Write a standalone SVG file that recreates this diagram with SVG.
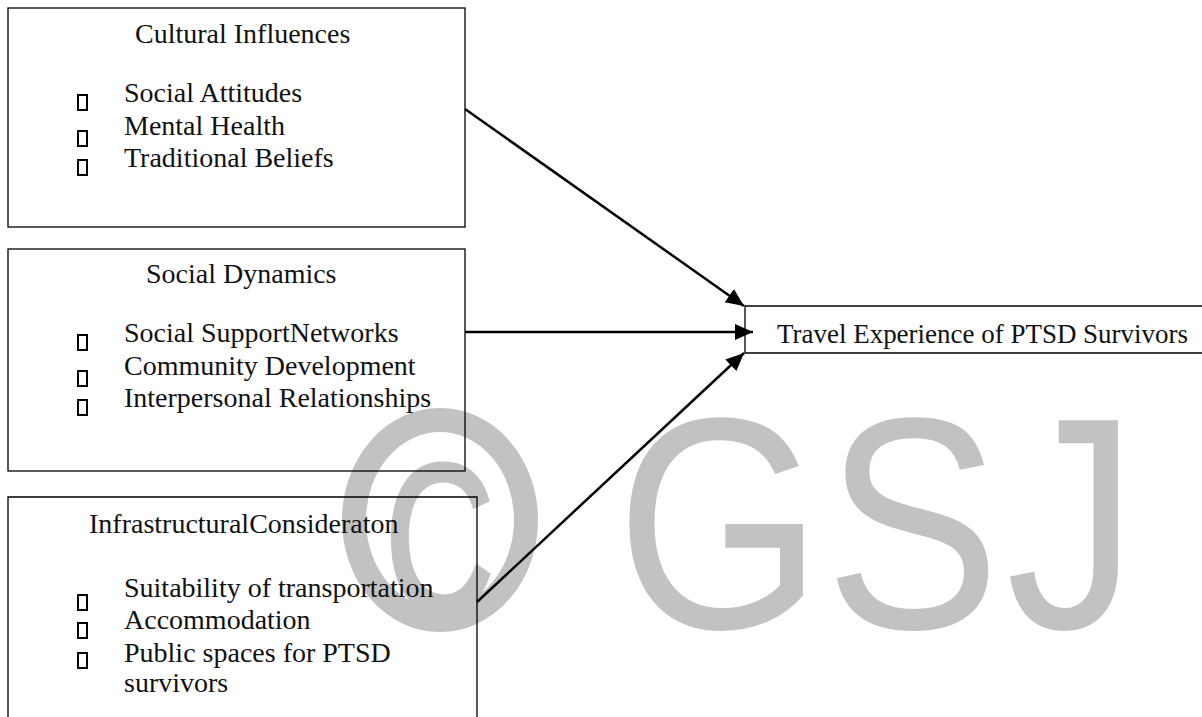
<svg xmlns="http://www.w3.org/2000/svg" width="1202" height="717" viewBox="0 0 1202 717">
  <style>
    .box { fill: none; stroke: #000; stroke-width: 1.3; }
    .txt { font-family: "Liberation Serif", "Times New Roman", serif; font-size: 28px; fill: #111; }
    .bullet { fill: none; stroke: #000; stroke-width: 2; }
    .wm { font-family: "Liberation Sans", Arial, sans-serif; font-size: 302px; fill: #c2c2c2; }
    .wm-c { font-family: "Liberation Sans", Arial, sans-serif; font-size: 210px; fill: #c2c2c2; stroke: #c2c2c2; stroke-width: 5; }
    .link { fill: none; stroke: #000; stroke-width: 2.5; }
  </style>
  <defs>
    <marker id="arrow" markerUnits="userSpaceOnUse" markerWidth="20" markerHeight="18" refX="18" refY="8" orient="auto">
      <path d="M0,0 L18,8 L0,16 Z" fill="#000"/>
    </marker>
  </defs>

  <rect width="1202" height="717" fill="#fff"/>

  <!-- grey copyright mark behind the diagram -->
  <g id="watermark">
    <ellipse cx="440" cy="520" rx="86" ry="100" fill="none" stroke="#c2c2c2" stroke-width="24"/>
    <text class="wm-c" transform="translate(385 611) scale(0.72 1)">C</text>
    <text class="wm" transform="translate(616 628) scale(0.88 1)">G</text>
    <text class="wm" transform="translate(825 628) scale(0.87 1)">S</text>
    <text class="wm" transform="translate(1006 628) scale(0.87 1)">J</text>
  </g>

  <g id="cultural-influences">
    <rect class="box" x="8" y="8" width="457" height="219"/>
    <text class="txt" x="135" y="43">Cultural Influences</text>
    <rect class="bullet" x="78" y="95" width="9" height="15"/>
    <rect class="bullet" x="78" y="131" width="9" height="15"/>
    <rect class="bullet" x="78" y="160" width="9" height="15"/>
    <text class="txt" x="124" y="102">Social Attitudes</text>
    <text class="txt" x="124" y="135">Mental Health</text>
    <text class="txt" x="124" y="167">Traditional Beliefs</text>
  </g>

  <g id="social-dynamics">
    <rect class="box" x="8" y="249" width="457" height="222"/>
    <text class="txt" x="146" y="283">Social Dynamics</text>
    <rect class="bullet" x="78" y="335" width="9" height="15"/>
    <rect class="bullet" x="78" y="371" width="9" height="15"/>
    <rect class="bullet" x="78" y="400" width="9" height="15"/>
    <text class="txt" x="124" y="342">Social SupportNetworks</text>
    <text class="txt" x="124" y="375">Community Development</text>
    <text class="txt" x="124" y="407">Interpersonal Relationships</text>
  </g>

  <g id="infrastructural-consideration">
    <path class="box" d="M8,720 L8,497 L477,497 L477,720"/>
    <text class="txt" x="89" y="533">InfrastructuralConsideraton</text>
    <rect class="bullet" x="78" y="595" width="9" height="15"/>
    <rect class="bullet" x="78" y="623" width="9" height="15"/>
    <rect class="bullet" x="78" y="653" width="9" height="15"/>
    <text class="txt" x="124" y="597">Suitability of transportation</text>
    <text class="txt" x="124" y="629">Accommodation</text>
    <text class="txt" x="124" y="662">Public spaces for PTSD</text>
    <text class="txt" x="124" y="692">survivors</text>
  </g>

  <g id="travel-experience">
    <path class="box" d="M1210,306 L745,306 L745,353 L1210,353"/>
    <text class="txt" x="777" y="343" textLength="411" lengthAdjust="spacingAndGlyphs">Travel Experience of PTSD Survivors</text>
  </g>

  <g id="connectors">
    <line class="link" x1="465" y1="109" x2="744" y2="306" marker-end="url(#arrow)"/>
    <line class="link" x1="465" y1="332" x2="753" y2="332" marker-end="url(#arrow)"/>
    <line class="link" x1="477" y1="602" x2="744" y2="353" marker-end="url(#arrow)"/>
  </g>
</svg>
